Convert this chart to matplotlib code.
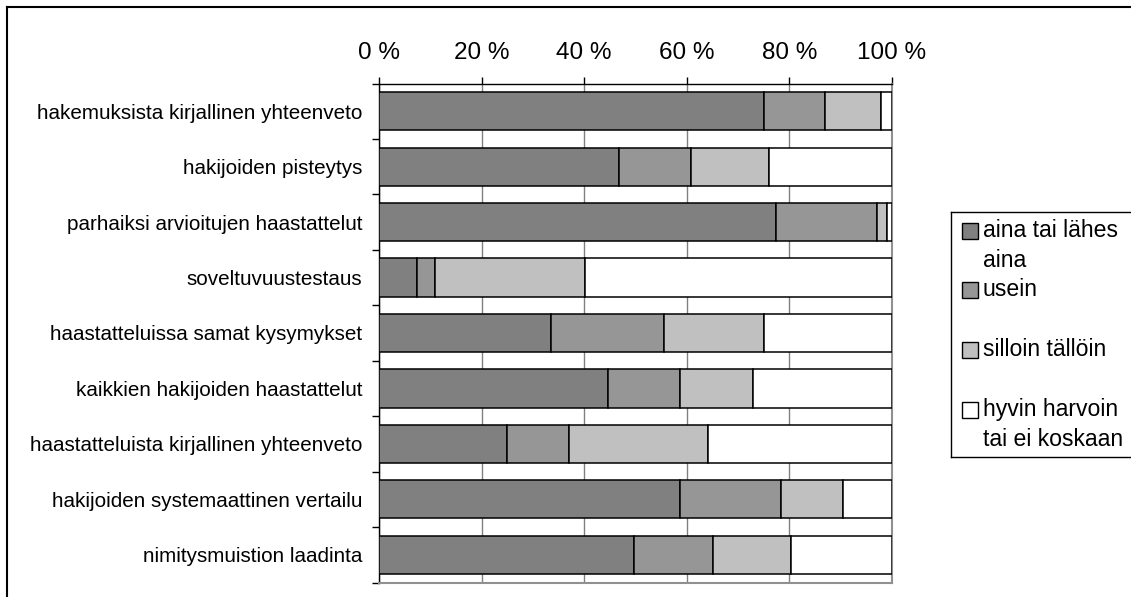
import matplotlib.pyplot as plt
from matplotlib.patches import Rectangle
from matplotlib.lines import Line2D
import numpy as np

plt.rcParams['font.family'] = ['Liberation Sans', 'DejaVu Sans']

# rekrytointikäytännöt, osuudet prosentteina (rivi = käytäntö)
categories = [
    'hakemuksista kirjallinen yhteenveto',
    'hakijoiden pisteytys',
    'parhaiksi arvioitujen haastattelut',
    'soveltuvuustestaus',
    'haastatteluissa samat kysymykset',
    'kaikkien hakijoiden haastattelut',
    'haastatteluista kirjallinen yhteenveto',
    'hakijoiden systemaattinen vertailu',
    'nimitysmuistion laadinta',
]
aina = [75.1, 46.8, 77.3, 7.4, 33.6, 44.6, 24.9, 58.6, 49.8]
usein = [11.9, 14.0, 19.7, 3.5, 21.9, 14.0, 12.2, 19.7, 15.4]
silloin = [10.8, 15.2, 2.1, 29.3, 19.6, 14.3, 27.1, 12.1, 15.2]
harvoin = [2.2, 24.0, 0.9, 59.8, 24.9, 27.1, 35.8, 9.6, 19.6]

series_names = ['aina tai lähes\naina', 'usein', 'silloin tällöin',
                'hyvin harvoin\ntai ei koskaan']
series_colors = ['#808080', '#969696', '#c0c0c0', '#ffffff']
tick_values = [0, 20, 40, 60, 80, 100]
tick_labels = ['0 %', '20 %', '40 %', '60 %', '80 %', '100 %']

W, H = 1131, 597
fig = plt.figure(figsize=(W / 100, H / 100), dpi=100)


def fx(x):
    return x / W


def fy(y):
    return 1 - y / H


# piirtoalue pikseleinä: vasen 379, oikea 892, ylä 83.5, ala 582.5
ax = fig.add_axes([fx(379), fy(582.5), (892 - 379) / W, (582.5 - 83.5) / H])

y = np.arange(len(categories))
left = np.zeros(len(categories))
for vals, col in zip([aina, usein, silloin, harvoin], series_colors):
    ax.barh(y, vals, left=left, height=0.69, color=col,
            edgecolor='black', linewidth=1.1, zorder=3)
    left += np.array(vals)

ax.set_xlim(0, 100)
ax.set_ylim(len(categories) - 0.5, -0.5)

# x-akseli ylhäällä
ax.xaxis.tick_top()
ax.set_xticks(tick_values)
ax.set_xticklabels(tick_labels, fontsize=17.5)
ax.tick_params(axis='x', direction='out', length=5, width=1, pad=9,
               color='black')
ax.xaxis.grid(True, color='#808080', linewidth=1.0, zorder=0)
ax.set_axisbelow(True)

# luokkien nimet vasemmalle, väliviivat luokkien rajoille
ax.set_yticks(y)
ax.set_yticklabels(categories, fontsize=14.9)
ax.tick_params(axis='y', which='major', length=0, pad=12)
ax.set_yticks(np.arange(-0.5, len(categories)), minor=True)
ax.tick_params(axis='y', which='minor', direction='out', length=5, width=1,
               color='black')

ax.spines['top'].set_color('black')
ax.spines['left'].set_color('black')
ax.spines['top'].set_linewidth(1.0)
ax.spines['left'].set_linewidth(1.0)
ax.spines['bottom'].set_color('#909090')
ax.spines['right'].set_color('#909090')
ax.spines['bottom'].set_linewidth(1.5)
ax.spines['right'].set_linewidth(1.5)

# selite: kehyksen oikea reuna jää kuvan ulkopuolelle
lx0, ly0, ly1 = 951, 212, 457
for xs, ys in [([lx0, W + 5], [ly0, ly0]),
               ([lx0, W + 5], [ly1, ly1]),
               ([lx0, lx0], [ly0, ly1])]:
    fig.add_artist(Line2D([fx(v) for v in xs], [fy(v) for v in ys],
                          color='black', lw=1.0, transform=fig.transFigure))

entry_y = [231, 290, 350, 410]
for name, col, ey in zip(series_names, series_colors, entry_y):
    fig.add_artist(Rectangle((fx(962), fy(ey + 8)), 16 / W, 16 / H,
                             transform=fig.transFigure, facecolor=col,
                             edgecolor='black', linewidth=1.0))
    fig.text(fx(983), fy(ey - 12), name, fontsize=16.6, va='top', ha='left',
             linespacing=1.38)

# kehys kuvan ympärillä
fig.add_artist(Line2D([fx(7), 1], [fy(7), fy(7)], color='black', lw=1.5,
                      transform=fig.transFigure))
fig.add_artist(Line2D([fx(7), fx(7)], [fy(7), 0], color='black', lw=1.5,
                      transform=fig.transFigure))

plt.savefig('out.png', dpi=100)
